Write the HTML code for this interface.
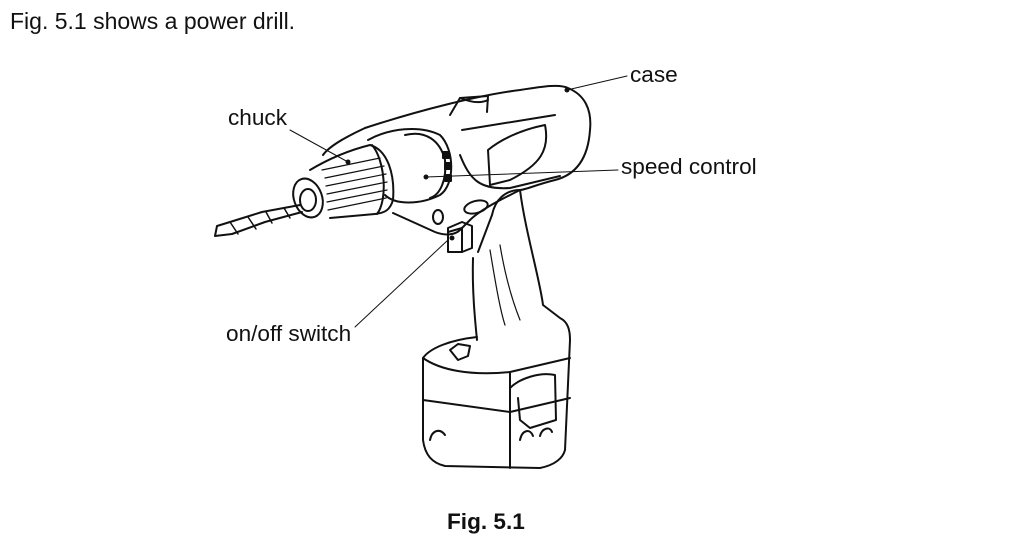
<!DOCTYPE html>
<html><head><style>
html,body{margin:0;padding:0;background:#fff;}
body{width:1024px;height:541px;position:relative;overflow:hidden;font-family:"Liberation Sans",Arial,sans-serif;}
.t{position:absolute;font-size:22.6px;color:#111;white-space:nowrap;line-height:1;}
</style></head><body>
<div class="t" style="left:10px;top:10px;font-size:23px;">Fig. 5.1 shows a power drill.</div>
<div class="t" style="left:228px;top:107px;">chuck</div>
<div class="t" style="left:630px;top:64px;">case</div>
<div class="t" style="left:621px;top:156px;">speed control</div>
<div class="t" style="left:226px;top:323px;">on/off switch</div>
<div class="t" style="left:447px;top:511px;font-weight:bold;">Fig. 5.1</div>
<svg width="1024" height="541" style="position:absolute;left:0;top:0" fill="none" stroke="#111" stroke-width="2" stroke-linejoin="round" stroke-linecap="round">
<g stroke-width="1">
<line x1="290" y1="130" x2="348" y2="162"/>
<line x1="627" y1="76" x2="567" y2="90"/>
<line x1="618" y1="170" x2="426" y2="177"/>
<line x1="355" y1="327" x2="448" y2="240"/>
</g>
<circle cx="348" cy="162" r="2.5" fill="#111" stroke="none"/>
<circle cx="567" cy="90" r="2.5" fill="#111" stroke="none"/>
<circle cx="426" cy="177" r="2.5" fill="#111" stroke="none"/>
<circle cx="452" cy="238" r="2.5" fill="#111" stroke="none"/>
<path d="M365,128 C420,110 480,95 520,90 C545,86 560,84 568,88 C585,95 592,110 590,130 C588,160 575,175 555,180 C535,185 525,190 520,190 C525,230 540,280 543,305 L560,318 C568,322 570,330 570,340"/>
<path d="M520,190 C505,190 495,200 492,215 L478,252"/>
<path d="M473,258 C472,290 475,320 477,340"/>
<path d="M365,128 C350,135 330,145 323,155"/>
<path d="M393,213 L435,232 C445,236 455,235 460,230 L470,220 C480,210 500,200 520,190"/>
<path d="M450,115 L460,98 L488,96 L487,112" />
<path d="M460,98 C470,102 480,104 488,100"/>
<path d="M460,155 C470,180 480,190 510,188 L560,176"/>
<path d="M462,130 L555,115"/>
<path d="M488,150 C500,140 520,130 545,125 C550,150 540,165 510,180 L490,185 Z"/>
<path d="M368,140 C390,128 420,125 440,135 C455,150 455,185 440,195 C420,205 395,205 385,195"/>
<path d="M405,135 C425,130 440,140 445,160 C447,180 440,195 430,198"/>
<rect x="443" y="152" width="6" height="6" fill="#111"/>
<rect x="445" y="163" width="6" height="6" fill="#111"/>
<rect x="445" y="175" width="6" height="6" fill="#111"/>
<path d="M310,170 C330,158 350,150 370,145 C388,150 395,175 393,200 C390,210 385,213 375,214 L330,218"/>
<path d="M372,145 C385,160 388,200 377,214"/>
<g stroke-width="1.2">
<line x1="322" y1="170" x2="380" y2="158"/><line x1="325" y1="178" x2="384" y2="166"/>
<line x1="326" y1="186" x2="386" y2="174"/><line x1="327" y1="194" x2="387" y2="182"/>
<line x1="327" y1="202" x2="387" y2="190"/><line x1="328" y1="210" x2="386" y2="198"/>
</g>
<ellipse cx="308" cy="198" rx="14" ry="20" transform="rotate(-20 308 198)"/>
<ellipse cx="308" cy="200" rx="8" ry="11"/>
<path d="M300,205 L262,212 L230,222 L217,226 L215,236 L232,234 L265,222 L302,212"/>
<g stroke-width="1.5"><line x1="230" y1="222" x2="238" y2="234"/><line x1="248" y1="217" x2="256" y2="229"/><line x1="266" y1="212" x2="272" y2="223"/><line x1="284" y1="208" x2="290" y2="218"/></g>
<ellipse cx="438" cy="217" rx="5" ry="7"/>
<ellipse cx="476" cy="207" rx="12" ry="6" transform="rotate(-15 476 207)"/>
<path d="M448,228 L462,222 L472,226 L472,248 L462,252 L448,252 Z"/>
<path d="M448,232 L462,228 L462,252"/>
<path d="M490,250 C495,280 500,310 505,325" stroke-width="1.2"/>
<path d="M500,245 C505,275 512,300 520,320" stroke-width="1.2"/>
<path d="M477,337 C450,340 430,348 423,358 L423,440 C425,455 432,463 445,466 L540,468 C555,465 563,458 565,450 L570,340"/>
<path d="M423,358 C440,370 470,376 510,372 L570,358"/>
<path d="M423,400 L510,412 L570,398"/>
<path d="M510,372 L510,468"/>
<path d="M450,350 L458,344 L470,346 L468,356 L458,360 Z"/>
<path d="M510,388 C520,378 540,372 555,375 L556,420 L530,428 L520,420 L518,398"/>
<path d="M430,440 C432,430 440,428 445,435 M520,440 C522,430 530,428 533,436 M540,436 C542,428 550,426 552,432"/>
</svg>
</body></html>
